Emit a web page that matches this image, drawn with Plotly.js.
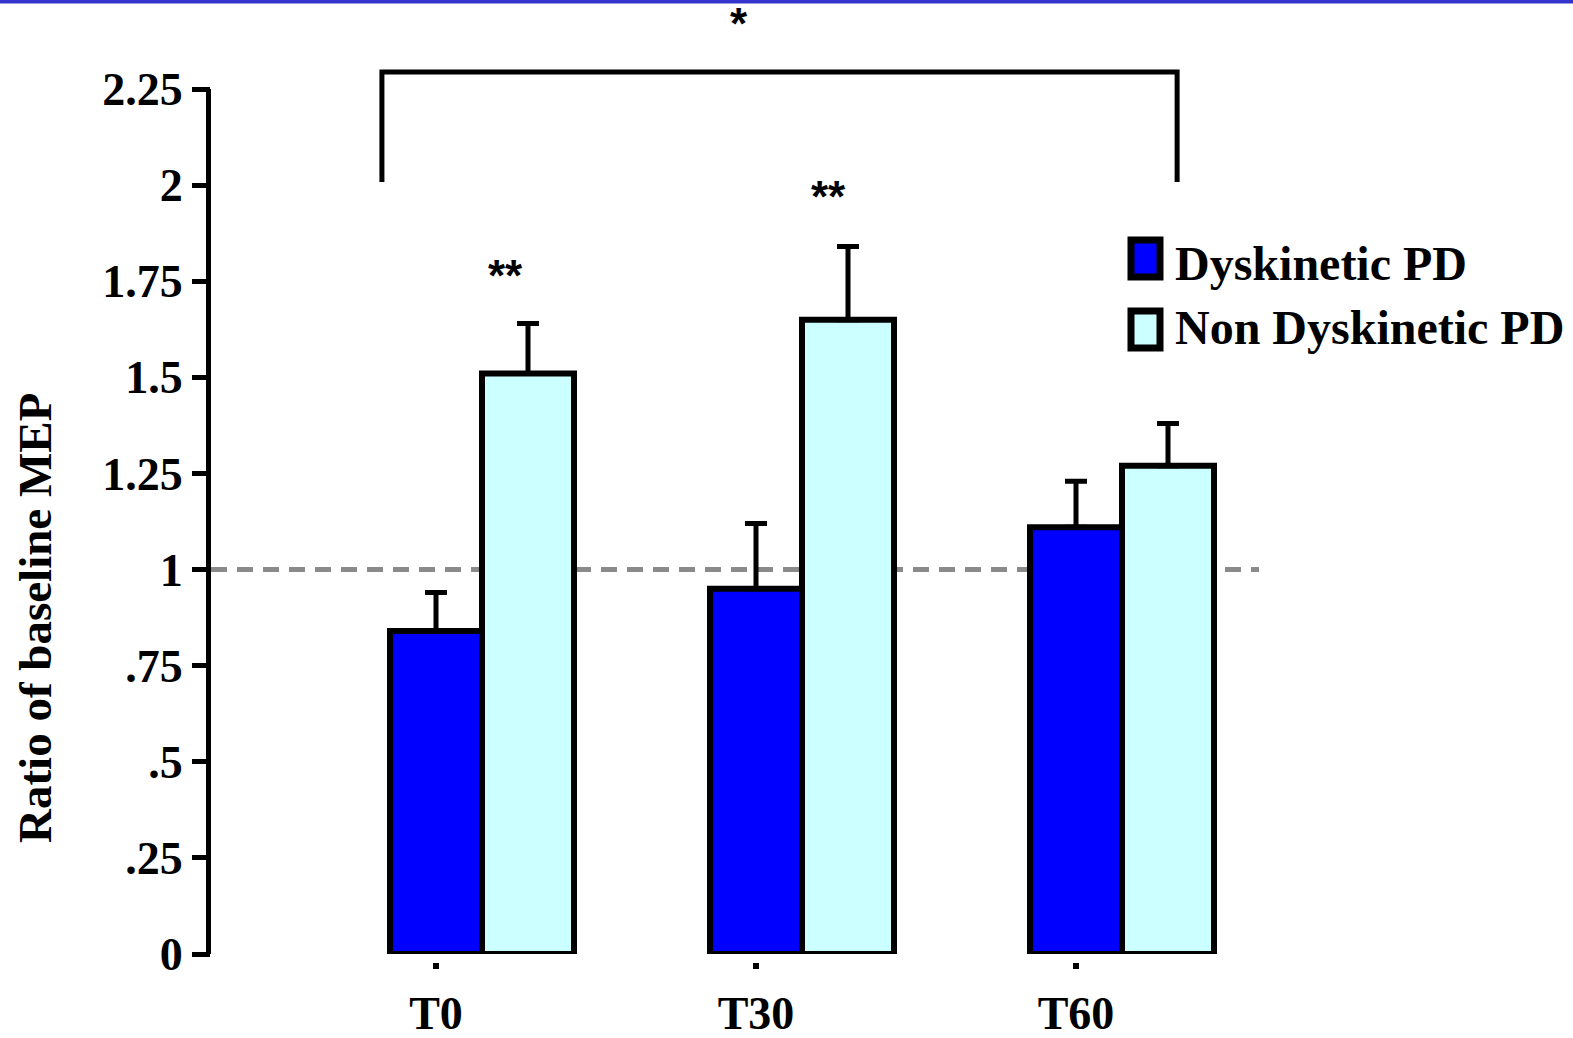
<!DOCTYPE html>
<html><head><meta charset="utf-8">
<script src="https://cdn.plot.ly/plotly-3.0.1.min.js"></script>
<style>html,body{margin:0;padding:0;background:#fff;overflow:hidden}#chart{width:1573px;height:1038px;}</style>
</head><body><div id="chart"></div>
<script>
// ---- data ----
const categories = ['T0', 'T30', 'T60'];
const seriesNames = ['Dyskinetic PD', 'Non Dyskinetic PD'];
const dyskineticMean = [0.84, 0.95, 1.11];
const dyskineticSEM = [0.10, 0.17, 0.12];
const nonDyskineticMean = [1.51, 1.65, 1.27];
const nonDyskineticSEM = [0.13, 0.19, 0.11];
const yTickVals = [0, 0.25, 0.5, 0.75, 1, 1.25, 1.5, 1.75, 2, 2.25];
const yTickText = ['0', '.25', '.5', '.75', '1', '1.25', '1.5', '1.75', '2', '2.25'];
const baselineRatio = 1;
const yTitleText = 'Ratio of baseline MEP';
// significance annotations (category index units / ratio units)
const pairStarLabels = ['**', '**'];
const pairStarX = [0.216, 1.228];
const pairStarY = [1.765, 1.97];
const bracketX = [-0.169, -0.169, 2.316, 2.316];
const bracketY = [2.008, 2.294, 2.294, 2.008];
const bracketStarLabel = '*';
const bracketStarX = 0.947;
const bracketStarY = 2.42;

// ---- layout constants (pixels) ----
const W = 1573, H = 1038;
const plotLeft = 211, plotRight = 1259;
const yZeroPx = 954, yTopPx = 89;
const catPx0 = 436, catStep = 320;
const barW = 0.2875;
const serif = 'Liberation Serif, Times New Roman, serif';
const sans = 'Liberation Sans, Arial, sans-serif';

const catIndex = categories.map((c, i) => i);
const dom0 = (H - yZeroPx) / H;
const yAxisTop = yTickVals[yTickVals.length - 1];
const yMax = yAxisTop * yZeroPx / (yZeroPx - yTopPx);
const xRange = [(plotLeft - catPx0) / catStep, (plotRight - catPx0) / catStep];
const px2x = px => (px - plotLeft) / (plotRight - plotLeft);
const py2y = py => (H - py) / H;

const zeros = categories.map(() => 0);
const traces = [
  {type: 'bar', x: catIndex, y: dyskineticMean, name: seriesNames[0],
   width: barW, offset: -barW / 2,
   marker: {color: '#0000ff', line: {color: '#000', width: 6}},
   error_y: {type: 'data', symmetric: false, array: dyskineticSEM, arrayminus: zeros, color: '#000', thickness: 5, width: 11},
   hoverinfo: 'skip', showlegend: false},
  {type: 'bar', x: catIndex, y: nonDyskineticMean, name: seriesNames[1],
   width: barW, offset: barW / 2,
   marker: {color: '#ccffff', line: {color: '#000', width: 6}},
   error_y: {type: 'data', symmetric: false, array: nonDyskineticSEM, arrayminus: zeros, color: '#000', thickness: 5, width: 11},
   hoverinfo: 'skip', showlegend: false},
  {type: 'scatter', mode: 'lines', x: bracketX, y: bracketY,
   line: {color: '#000', width: 5}, hoverinfo: 'skip', showlegend: false}
];

const annotations = [
  {xref: 'paper', yref: 'paper', x: px2x(35), y: py2y(618), text: yTitleText, textangle: -90,
   showarrow: false, xanchor: 'center', yanchor: 'middle',
   font: {family: serif, size: 47, color: '#000', weight: 700}},
  {xref: 'x', yref: 'y', x: bracketStarX, y: bracketStarY, text: bracketStarLabel, showarrow: false,
   font: {family: sans, size: 44, color: '#000', weight: 700}}
];
pairStarLabels.forEach((t, i) => annotations.push({xref: 'x', yref: 'y', x: pairStarX[i], y: pairStarY[i], text: t,
  showarrow: false, font: {family: sans, size: 44, color: '#000', weight: 700}}));

// legend drawn as shapes + text
const legendColors = ['#0000ff', '#ccffff'];
const legendBoxTop = [240, 311];
const legendTextMid = [263, 327];
const shapes = [
  {type: 'rect', xref: 'paper', yref: 'paper', x0: px2x(0), x1: px2x(W), y0: py2y(3.5), y1: py2y(0),
   fillcolor: '#3434cc', line: {width: 0}},
  {type: 'line', xref: 'x', yref: 'y', x0: xRange[0], x1: xRange[1], y0: baselineRatio, y1: baselineRatio,
   layer: 'below', line: {color: '#8a8a8a', width: 5, dash: '16px,10px'}},
  {type: 'line', xref: 'paper', yref: 'y', x0: px2x(208.5), x1: px2x(208.5), y0: 0, y1: yAxisTop,
   line: {color: '#000', width: 5}}
];
seriesNames.forEach((n, i) => {
  shapes.push({type: 'rect', xref: 'paper', yref: 'paper', x0: px2x(1131), x1: px2x(1160),
    y0: py2y(legendBoxTop[i] + 37), y1: py2y(legendBoxTop[i]),
    fillcolor: legendColors[i], line: {color: '#000', width: 7}});
  annotations.push({xref: 'paper', yref: 'paper', x: px2x(1173), y: py2y(legendTextMid[i]), text: n,
    showarrow: false, xanchor: 'left', yanchor: 'middle',
    font: {family: serif, size: 48, color: '#000', weight: 700}});
});

const layout = {
  width: W, height: H,
  margin: {l: plotLeft, r: W - plotRight, t: 0, b: 0, pad: 0},
  paper_bgcolor: '#fff', plot_bgcolor: 'rgba(0,0,0,0)',
  barmode: 'overlay',
  xaxis: {type: 'linear', range: xRange, anchor: 'free', position: dom0 - 8 / H,
    showline: false, showgrid: false, zeroline: false,
    tickmode: 'array', tickvals: catIndex, ticktext: categories,
    ticks: 'outside', ticklen: 6, tickwidth: 6, tickcolor: '#000', ticklabelstandoff: 5,
    tickfont: {family: serif, size: 46, color: '#000', weight: 700}},
  yaxis: {range: [0, yMax], domain: [dom0, 1], anchor: 'x',
    showline: false, showgrid: false, zeroline: false,
    ticks: 'outside', ticklen: 18, tickwidth: 5, tickcolor: '#000',
    tickmode: 'array', tickvals: yTickVals, ticktext: yTickText,
    tickfont: {family: serif, size: 46, color: '#000', weight: 700}},
  shapes: shapes,
  annotations: annotations,
  showlegend: false
};

Plotly.newPlot('chart', traces, layout, {displayModeBar: false, staticPlot: true});
</script>
</body></html>
